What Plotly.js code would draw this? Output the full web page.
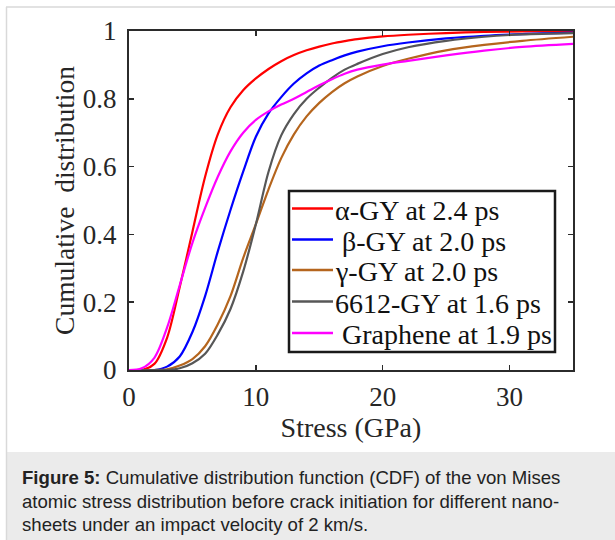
<!DOCTYPE html>
<html>
<head>
<meta charset="utf-8">
<script src="https://cdn.plot.ly/plotly-3.0.1.min.js"></script>
<style>
  html, body { margin: 0; padding: 0; background: #ffffff; }
  #chart { width: 615px; height: 540px; }
</style>
</head>
<body>
<div id="chart"></div>
<script>
// ---- Data ----
const seriesNames = [
  "α-GY at 2.4 ps",
  "\u00a0β-GY at 2.0 ps",
  "γ-GY at 2.0 ps",
  "6612-GY at 1.6 ps",
  "\u00a0Graphene at 1.9 ps"
];
const seriesColors = ["#ff0000", "#0000ff", "#b5651d", "#575757", "#ff00ff"];

// stress (GPa) sample positions shared by all series
const stress = [0, 1, 2, 3, 4, 5, 6, 7, 8, 9, 10, 11, 12, 13, 14, 15, 16, 17, 18, 20, 22, 25, 28, 31, 35];

const alphaGY    = [0, 0.000, 0.018, 0.095, 0.245, 0.408, 0.570, 0.695, 0.775, 0.825, 0.860, 0.888, 0.911, 0.929, 0.943, 0.954, 0.963, 0.970, 0.976, 0.984, 0.989, 0.994, 0.997, 0.999, 1.000];
const betaGY     = [0, 0.000, 0.000, 0.010, 0.040, 0.112, 0.218, 0.350, 0.472, 0.585, 0.688, 0.757, 0.805, 0.845, 0.875, 0.898, 0.914, 0.928, 0.939, 0.955, 0.966, 0.978, 0.986, 0.991, 0.995];
const gammaGY    = [0, 0.000, 0.000, 0.002, 0.013, 0.032, 0.070, 0.135, 0.218, 0.330, 0.430, 0.533, 0.625, 0.695, 0.748, 0.788, 0.820, 0.846, 0.866, 0.897, 0.918, 0.943, 0.959, 0.971, 0.983];
const gy6612     = [0, 0.000, 0.000, 0.000, 0.005, 0.020, 0.048, 0.105, 0.180, 0.290, 0.430, 0.585, 0.692, 0.755, 0.800, 0.833, 0.862, 0.886, 0.903, 0.932, 0.952, 0.971, 0.983, 0.990, 0.994];
const graphene   = [0, 0.005, 0.036, 0.125, 0.250, 0.375, 0.478, 0.570, 0.645, 0.700, 0.738, 0.763, 0.783, 0.800, 0.820, 0.840, 0.858, 0.874, 0.886, 0.901, 0.912, 0.928, 0.942, 0.953, 0.962];

const xTickVals = [0, 10, 20, 30];
const yTickVals = [0, 0.2, 0.4, 0.6, 0.8, 1];
const xTitle = "Stress (GPa)";
const yTitle = "Cumulative\u00a0\u00a0distribution";
const captionBold = "Figure 5:";
const captionLines = [
  " Cumulative distribution function (CDF) of the von Mises",
  "atomic stress distribution before crack initiation for different nano-",
  "sheets under an impact velocity of 2 km/s."
];

// ---- Layout geometry (pixels) ----
const W = 615, H = 540;
const L = 129, R = 42, T = 31, B = 170;
const pw = W - L - R, ph = H - T - B;
const px = v => (v - L) / pw;          // pixel x -> paper x
const py = v => (H - B - v) / ph;      // pixel y -> paper y

const ys = [alphaGY, betaGY, gammaGY, gy6612, graphene];

const traces = ys.map((y, i) => ({
  type: "scatter",
  mode: "lines",
  x: stress,
  y: y,
  name: seriesNames[i],
  line: { color: seriesColors[i], width: 2.2, shape: "spline", smoothing: 0.9 },
  showlegend: false,
  hoverinfo: "skip"
}));

const serif = "Liberation Serif, Times New Roman, serif";
const sans = "Liberation Sans, Arial, Helvetica, sans-serif";

const shapes = [];
const annotations = [];

// outer frame lines
shapes.push({ type: "line", xref: "paper", yref: "paper", x0: px(6.5), x1: px(6.5), y0: py(7), y1: py(540), line: { color: "#d9d9d9", width: 1.5 } });
shapes.push({ type: "line", xref: "paper", yref: "paper", x0: px(6), x1: px(615), y0: py(7), y1: py(7), line: { color: "#d9d9d9", width: 1.5 } });
// caption background
shapes.push({ type: "rect", xref: "paper", yref: "paper", x0: px(7), x1: px(615), y0: py(452), y1: py(540), fillcolor: "#ebebeb", line: { width: 0 }, layer: "below" });

// legend box
const legL = 289, legR = 555, legT = 191, legB = 352;
shapes.push({ type: "rect", xref: "paper", yref: "paper", x0: px(legL), x1: px(legR), y0: py(legB), y1: py(legT), fillcolor: "#ffffff", line: { color: "#1a1a1a", width: 2.5 }, layer: "above" });
const rowY = [208.5, 239.5, 270, 301.5, 333];
seriesNames.forEach((n, i) => {
  shapes.push({ type: "line", xref: "paper", yref: "paper", x0: px(292), x1: px(333), y0: py(rowY[i]), y1: py(rowY[i]), line: { color: seriesColors[i], width: 2.5 }, layer: "above" });
  annotations.push({ xref: "paper", yref: "paper", x: px(333), y: py(rowY[i] + 1.5), xanchor: "left", yanchor: "middle", showarrow: false, text: n, font: { family: serif, size: 28, color: "#111111" } });
});

// caption
const capY = [477, 501.5, 524.5];
const capFont = { family: sans, size: 18.6, color: "#222222" };
annotations.push({ xref: "paper", yref: "paper", x: px(20), y: py(capY[0]), xanchor: "left", yanchor: "middle", showarrow: false, align: "left",
  text: "<b>" + captionBold + "</b>" + captionLines[0], font: capFont });
annotations.push({ xref: "paper", yref: "paper", x: px(20), y: py(capY[1]), xanchor: "left", yanchor: "middle", showarrow: false, align: "left",
  text: captionLines[1], font: capFont });
annotations.push({ xref: "paper", yref: "paper", x: px(20), y: py(capY[2]), xanchor: "left", yanchor: "middle", showarrow: false, align: "left",
  text: captionLines[2], font: capFont });

const axisCommon = {
  showline: true, mirror: "ticks", linecolor: "#2b2b2b", linewidth: 2.2,
  ticks: "inside", ticklen: 5, tickwidth: 1.5, tickcolor: "#2b2b2b",
  showgrid: false, zeroline: false,
  tickfont: { family: serif, size: 27, color: "#262626" }
};

const layout = {
  width: W, height: H,
  margin: { l: L, r: R, t: T, b: B, pad: 0 },
  paper_bgcolor: "#ffffff",
  plot_bgcolor: "#ffffff",
  showlegend: false,
  xaxis: Object.assign({}, axisCommon, {
    range: [0, 35], tickvals: xTickVals, ticklabelstandoff: 1,
    title: { text: xTitle, font: { family: serif, size: 28, color: "#262626" }, standoff: 0 },
    automargin: false
  }),
  yaxis: Object.assign({}, axisCommon, {
    range: [0, 1], tickvals: yTickVals, ticklabelstandoff: 5,
    title: { text: yTitle, font: { family: serif, size: 27.5, color: "#262626" }, standoff: 0 },
    automargin: false
  }),
  shapes: shapes,
  annotations: annotations
};

Plotly.newPlot("chart", traces, layout, { staticPlot: true, displayModeBar: false });
</script>
</body>
</html>
